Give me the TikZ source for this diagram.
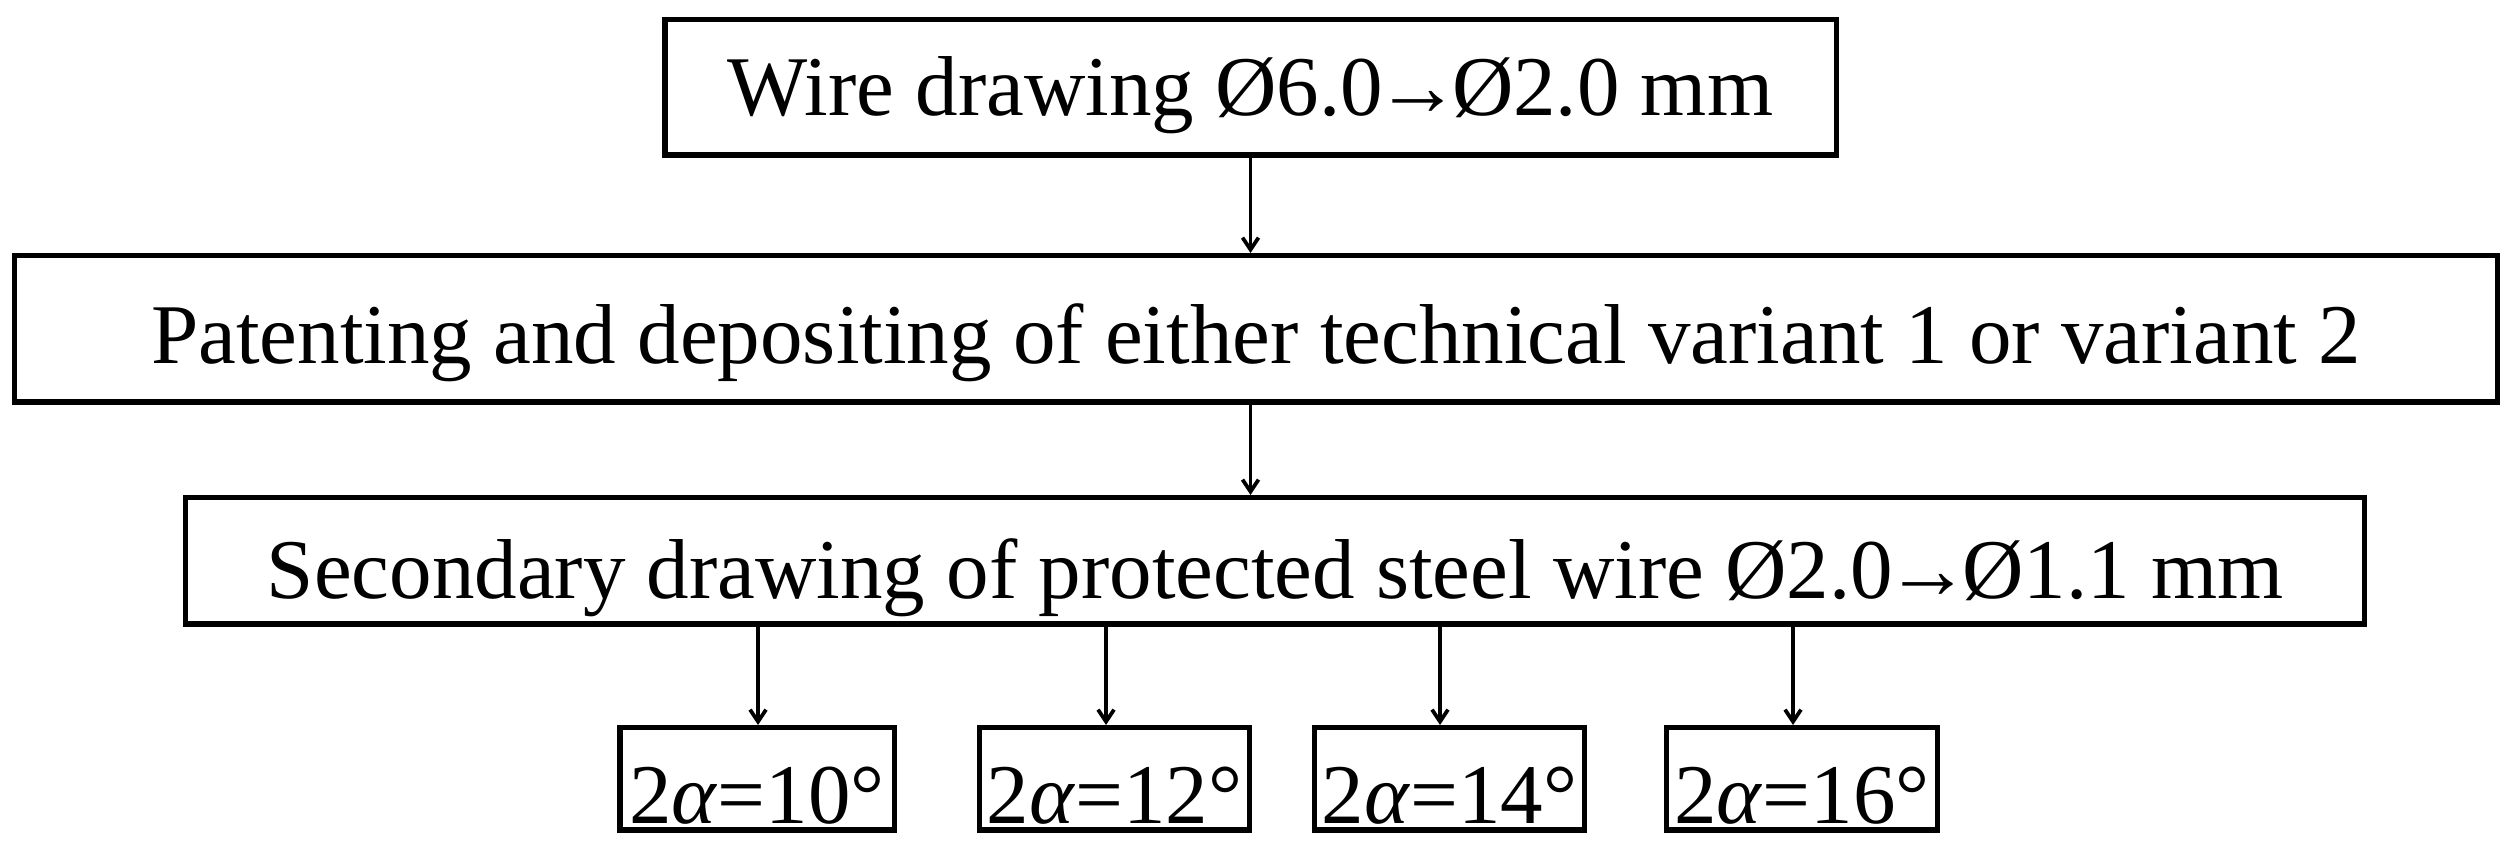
\documentclass[tikz,border=0pt]{standalone}
\usepackage{fontspec}
\setmainfont{Liberation Serif}
\usetikzlibrary{arrows.meta}
\newcommand{\myarr}{\kern-1.6pt→\kern-1.6pt}
\begin{document}
\begin{tikzpicture}[x=0.2pt,y=-0.2pt,
  box/.style={draw=black, line width=1.1pt, inner sep=0pt, text depth=0pt,
    font=\fontsize{17}{20}\selectfont, align=center},
  arr/.style={-{Straight Barb[length=2.4pt,width=3.2pt,line width=0.75pt]}, line width=0.66pt}]
\useasboundingbox (0,0) rectangle (2515,848);
\node[box, minimum width=234.3pt, minimum height=27.1pt, text height=11.25pt] (wire) at (1250.5,87.5) {Wire drawing Ø6.0\myarr Ø2.0 mm};
\node[box, minimum width=496.5pt, minimum height=29.3pt, text height=13.65pt] (pat) at (1256,329) {Patenting and depositing of either technical variant 1 or variant 2};
\node[box, minimum width=435.7pt, minimum height=25.3pt, text height=15.05pt] (sec) at (1275,561) {Secondary drawing of protected steel wire Ø2.0\myarr Ø1.1 mm};
\node[box, minimum width=54.9pt, minimum height=20.5pt, text height=17.7pt] (b1) at (757,779) {2\textit{α}=10°};
\node[box, minimum width=54.0pt, minimum height=20.5pt, text height=17.7pt] (b2) at (1114.5,779) {2\textit{α}=12°};
\node[box, minimum width=54.0pt, minimum height=20.5pt, text height=17.7pt] (b3) at (1449.5,779) {2\textit{α}=14°};
\node[box, minimum width=54.2pt, minimum height=20.5pt, text height=17.7pt] (b4) at (1802,779) {2\textit{α}=16°};
\draw[arr] (wire.south) -- (wire.south |- pat.north);
\draw[arr] (wire.south |- pat.south) -- (wire.south |- sec.north);
\draw[arr] ([xshift=0.2pt]b1.north |- sec.south) -- ([xshift=0.2pt]b1.north);
\draw[arr] ([xshift=-1.7pt]b2.north |- sec.south) -- ([xshift=-1.7pt]b2.north);
\draw[arr] ([xshift=-1.9pt]b3.north |- sec.south) -- ([xshift=-1.9pt]b3.north);
\draw[arr] ([xshift=-1.8pt]b4.north |- sec.south) -- ([xshift=-1.8pt]b4.north);
\end{tikzpicture}
\end{document}
